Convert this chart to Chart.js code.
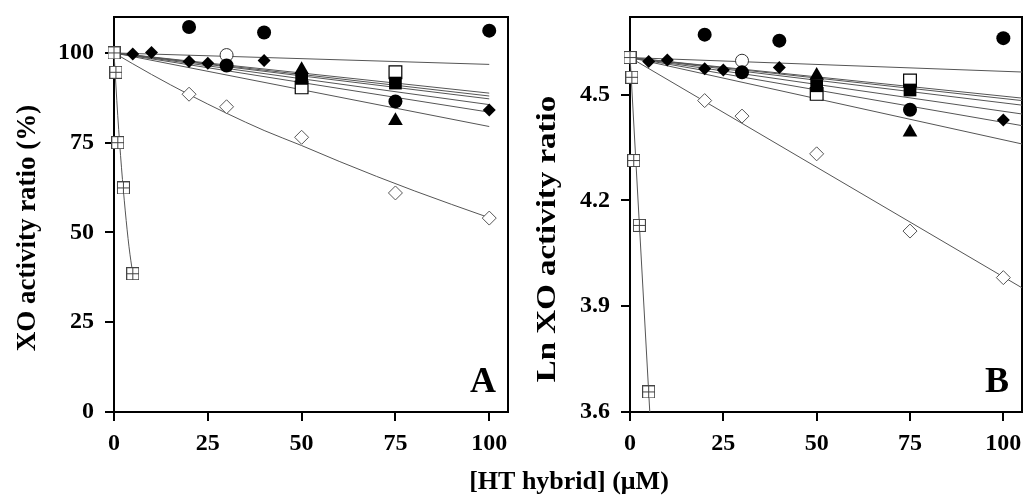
<!DOCTYPE html>
<html><head><meta charset="utf-8">
<script src="https://cdn.jsdelivr.net/npm/chart.js@4.4.0/dist/chart.umd.min.js"></script>
<style>
html,body{margin:0;padding:0;background:#fff;width:1024px;height:495px;overflow:hidden}
canvas{position:absolute;left:0;top:0}
</style></head><body>
<canvas id="cA" width="1024" height="495"></canvas>
<canvas id="cB" width="1024" height="495"></canvas>
<script>
// ---- tick labels ----
const xTicks = [0, 25, 50, 75, 100];
const yTicksA = [0, 25, 50, 75, 100];
const yTicksB = [3.6, 3.9, 4.2, 4.5];

// ---- series (x = [HT hybrid] µM) ----
const topCircleX = [20, 40, 100];
const topCircleA = [107.2, 105.7, 106.2];
const topCircleB = [4.670, 4.653, 4.660];

const circleX = [30, 75];
const circleA = [96.5, 86.5];
const circleB = [4.563, 4.457];

const openCircleX = [30];
const openCircleA = [99.4];
const openCircleB = [4.596];

const diamondX = [5, 10, 20, 25, 40, 100];
const diamondA = [99.7, 100.1, 97.6, 97.1, 97.9, 84.1];
const diamondB = [4.594, 4.598, 4.573, 4.570, 4.577, 4.428];

const triangleX = [50, 75];
const triangleA = [95.3, 81.1];
const triangleB = [4.554, 4.393];

const squareX = [50, 75];
const squareA = [92.9, 91.6];
const squareB = [4.525, 4.513];

const openSquareX = [50, 75];
const openSquareA = [90.4, 94.6];
const openSquareB = [4.502, 4.540];

const openDiamondX = [20, 30, 50, 75, 100];
const openDiamondA = [88.5, 85.0, 76.5, 61.0, 54.0];
const openDiamondB = [4.483, 4.439, 4.332, 4.113, 3.981];

const crossSquareX = [0, 0.5, 1, 2.5, 5];
const crossSquareA = [100, 94.6, 75.0, 62.4, 38.5];
const crossSquareB = [4.605, 4.549, 4.313, 4.129, 3.657];

// ---- fitted lines ----
const fitX_A = [0, 100];
const fitStartA = 100;
const fitEndsA = [96.8, 88.8, 88.0, 87.2, 85.6, 83.5, 79.5];
const fitX_B = [0, 105];
const fitStartB = 4.605;
const fitEndsB = [4.564, 4.490, 4.483, 4.470, 4.445, 4.412, 4.360];

const openDiamondFitX = [0, 10, 20, 30, 40, 50, 60, 70, 80, 90, 100];
const openDiamondFitA = [100, 94.0, 88.4, 83.2, 78.4, 74.2, 69.8, 65.6, 61.6, 57.8, 54.1];
const openDiamondFitX_B = [0, 105];
const openDiamondFitB = [4.605, 3.952];

const crossFitX_A = [0, 1, 2, 3, 4, 5];
const crossFitA = [100, 82.5, 68.0, 56.0, 46.0, 38.5];
const crossFitX_B = [0, 5.3];
const crossFitB = [4.61, 3.60];

// ---- helpers ----
const FONT = "'Liberation Serif', 'Times New Roman', serif";
const pts = (xs, ys) => xs.map((x, i) => ({x: x, y: ys[i]}));

function crossSquareImg(size) {
  const c = document.createElement('canvas');
  c.width = size; c.height = size;
  const g = c.getContext('2d');
  g.fillStyle = '#fff';
  g.fillRect(0.5, 0.5, size - 1, size - 1);
  g.strokeStyle = '#444';
  g.lineWidth = 1;
  g.strokeRect(0.5, 0.5, size - 1, size - 1);
  g.beginPath();
  const m = Math.floor(size / 2) + 0.5;
  g.moveTo(m, 0.5); g.lineTo(m, size - 0.5);
  g.moveTo(0.5, m); g.lineTo(size - 0.5, m);
  g.stroke();
  return c;
}
const crossImg = crossSquareImg(13);

function marker(data, style, radius, fill, stroke, bw) {
  return {data: data, showLine: false, pointStyle: style, pointRadius: radius, pointHoverRadius: radius,
    pointBackgroundColor: fill, pointBorderColor: stroke, pointBorderWidth: bw, order: 0, clip: false};
}
function line(data, curved) {
  return {data: data, showLine: true, pointRadius: 0, borderColor: '#555', borderWidth: 1,
    tension: curved ? 0.4 : 0, cubicInterpolationMode: curved ? 'monotone' : 'default', order: 10, fill: false};
}

function buildDatasets(p) {
  const ds = [];
  ds.push(marker(pts(topCircleX, p.topCircle), 'circle', 7, '#000', '#000', 0));
  ds.push(marker(pts(triangleX, p.triangle), 'triangle', 8.5, '#000', '#000', 0));
  ds.push(marker(pts(circleX, p.circle), 'circle', 7, '#000', '#000', 0));
  ds.push(marker(pts(diamondX, p.diamond), 'rectRot', 6.5, '#000', '#000', 0));
  ds.push(marker(pts(squareX, p.square), 'rect', 9, '#000', '#000', 0));
  ds.push(marker(pts(openSquareX, p.openSquare), 'rect', 9, '#fff', '#000', 1.2));
  ds.push(marker(pts(openCircleX, p.openCircle), 'circle', 6.5, '#fff', '#333', 1));
  ds.push(marker(pts(openDiamondX, p.openDiamond), 'rectRot', 7, '#fff', '#555', 1));
  ds.push(marker(pts(crossSquareX, p.crossSquare), crossImg, 7, '#fff', '#444', 1));
  p.fitEnds.forEach(e => ds.push(line(pts(p.fitX, [p.fitStart, e]), false)));
  ds.push(line(pts(p.odFitX, p.odFit), p.odCurved));
  ds.push(line(pts(p.crFitX, p.crFit), p.crCurved));
  return ds;
}

function scaleOpts(yMin, yMax, yTicks, yWidth, fmt) {
  const gridCfg = {display: true, drawOnChartArea: false, drawTicks: true, tickLength: 9, color: '#000', lineWidth: 2};
  const tickFont = {family: FONT, weight: 'bold', size: 24};
  return {
    x: {type: 'linear', min: 0, max: 105,
      afterBuildTicks: s => { s.ticks = xTicks.map(v => ({value: v})); },
      afterFit: s => { s.height = 83; s.paddingLeft = 0; s.paddingRight = 0; s.paddingTop = 0; s.paddingBottom = 0; },
      grid: gridCfg, border: {display: false},
      ticks: {font: tickFont, color: '#000', padding: 8, maxRotation: 0, autoSkip: false, callback: v => String(v)}},
    y: {type: 'linear', min: yMin, max: yMax,
      afterBuildTicks: s => { s.ticks = yTicks.map(v => ({value: v})); },
      afterFit: s => { s.width = yWidth; s.paddingLeft = 0; s.paddingRight = 0; s.paddingTop = 0; s.paddingBottom = 0; },
      grid: gridCfg, border: {display: false},
      ticks: {font: tickFont, color: '#000', padding: 11, autoSkip: false, callback: fmt}}
  };
}

function framePlugin(texts) {
  return {
    id: 'frameText',
    beforeDatasetsDraw(chart) {
      const a = chart.chartArea, ctx = chart.ctx;
      ctx.save();
      ctx.strokeStyle = '#000';
      ctx.lineWidth = 2;
      ctx.strokeRect(a.left, a.top, a.right - a.left, a.bottom - a.top);
      ctx.restore();
    },
    afterDraw(chart) {
      const ctx = chart.ctx;
      texts.forEach(t => {
        ctx.save();
        ctx.fillStyle = '#000';
        ctx.font = 'bold ' + t.size + 'px ' + FONT;
        ctx.textAlign = 'center';
        ctx.textBaseline = 'middle';
        ctx.translate(t.x, t.y);
        if (t.rot) ctx.rotate(t.rot);
        if (t.stretch) ctx.scale(t.stretch, 1);
        ctx.fillText(t.text, 0, 0);
        ctx.restore();
      });
    }
  };
}

function makeChart(id, p, padding, yMin, yMax, yTicks, yWidth, fmt, texts) {
  return new Chart(document.getElementById(id), {
    type: 'scatter',
    data: {datasets: buildDatasets(p)},
    options: {
      responsive: false, animation: false, events: [],
      layout: {padding: padding, autoPadding: false},
      plugins: {legend: {display: false}, tooltip: {enabled: false}},
      scales: scaleOpts(yMin, yMax, yTicks, yWidth, fmt)
    },
    plugins: [framePlugin(texts)]
  });
}

makeChart('cA', {
  topCircle: topCircleA, circle: circleA, openCircle: openCircleA, diamond: diamondA, triangle: triangleA,
  square: squareA, openSquare: openSquareA, openDiamond: openDiamondA, crossSquare: crossSquareA,
  fitX: fitX_A, fitStart: fitStartA, fitEnds: fitEndsA,
  odFitX: openDiamondFitX, odFit: openDiamondFitA, odCurved: true,
  crFitX: crossFitX_A, crFit: crossFitA, crCurved: true
}, {left: 0, top: 17, right: 516, bottom: 0}, 0, 110, yTicksA, 114, v => String(v), [
  {text: 'XO activity ratio (%)', x: 28, y: 228, size: 27, rot: -Math.PI / 2},
  {text: 'A', x: 483, y: 383, size: 36}
]);

makeChart('cB', {
  topCircle: topCircleB, circle: circleB, openCircle: openCircleB, diamond: diamondB, triangle: triangleB,
  square: squareB, openSquare: openSquareB, openDiamond: openDiamondB, crossSquare: crossSquareB,
  fitX: fitX_B, fitStart: fitStartB, fitEnds: fitEndsB,
  odFitX: openDiamondFitX_B, odFit: openDiamondFitB, odCurved: false,
  crFitX: crossFitX_B, crFit: crossFitB, crCurved: false
}, {left: 0, top: 17, right: 2, bottom: 0}, 3.6, 4.72, yTicksB, 630, v => Number(v).toFixed(1), [
  {text: 'Ln XO activity ratio', x: 548, y: 239, size: 27, rot: -Math.PI / 2, stretch: 1.22},
  {text: 'B', x: 997, y: 383, size: 36},
  {text: '[HT hybrid] (\u03bcM)', x: 569, y: 482, size: 26}
]);
</script>
</body></html>
